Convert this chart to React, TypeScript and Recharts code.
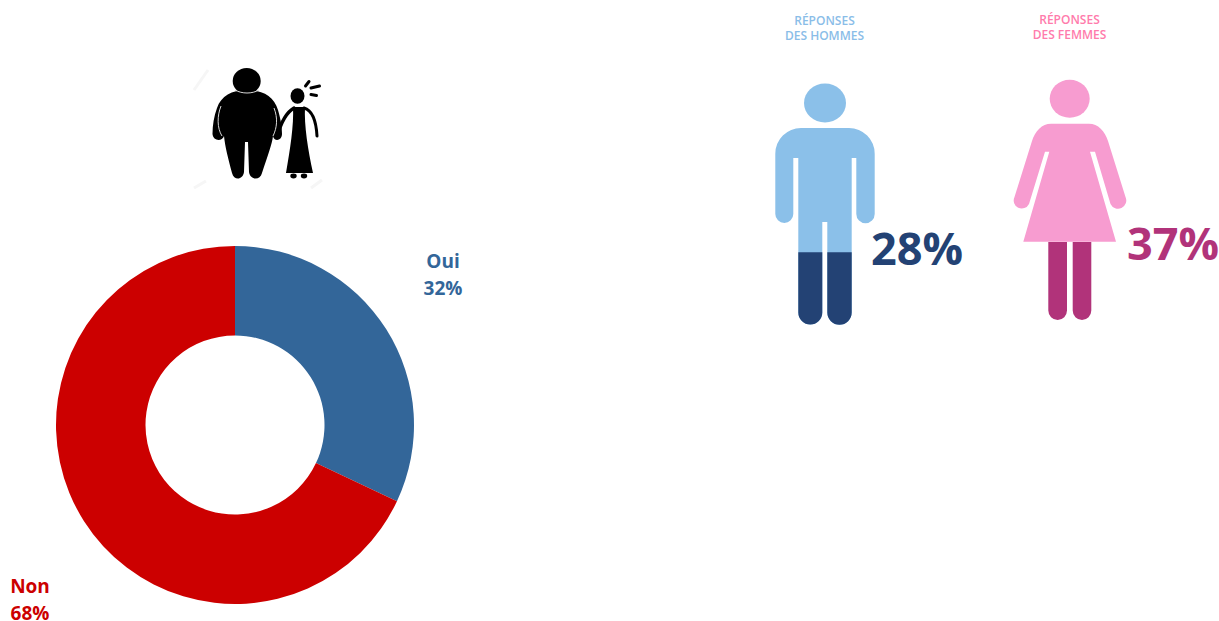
import React from "react";
import { PieChart, Pie, Cell } from "recharts";

const answers = ["Oui", "Non"];
const shares = [32, 68];
const sliceColors = ["#336699", "#CC0000"];
const surveyRows = answers.map((name, i) => ({ name, value: shares[i] }));

const menShare = 28;
const womenShare = 37;
const menHeading = ["RÉPONSES", "DES HOMMES"];
const womenHeading = ["RÉPONSES", "DES FEMMES"];

const labelFont = "'Open Sans', sans-serif";
const headingFont = "'Open Sans', sans-serif";

// Where each slice caption sits, centred on x with two stacked baselines.
const captionAnchors = [
  { x: 443, y: 268 },
  { x: 30, y: 593 },
];

function SliceCaption(props: any) {
  const anchor = captionAnchors[props.index];
  const color = sliceColors[props.index];
  return (
    <text
      x={anchor.x}
      y={anchor.y}
      textAnchor="middle"
      fontFamily={labelFont}
      fontWeight={700}
      fontSize={19}
      fill={color}
    >
      <tspan x={anchor.x}>{answers[props.index]}</tspan>
      <tspan x={anchor.x} dy={26.5}>{`${shares[props.index]}%`}</tspan>
    </text>
  );
}

const manOutline =
  "M801 128 H849 A25.7 25.7 0 0 1 874.7 153.7 V214 A9.2 9.2 0 0 1 856.3 214 V158 H851.7 V312.5 A12.2 12.2 0 0 1 827.3 312.5 V222 H822.3 V312.5 A12 12 0 0 1 798.3 312.5 V158 H793.3 V214 A9 9 0 0 1 775.3 214 V153.7 A25.7 25.7 0 0 1 801 128 Z";

const womanUpper =
  "M1051 123.7 H1089 C1098 123.7 1105 131 1108 141 L1125.5 197 A8 8 0 0 1 1110.5 204 L1095 151.7 H1090 L1116 241.7 H1023.3 L1049.3 151.7 H1045 L1029 204 A8 8 0 0 1 1014.5 197 L1032 141 C1035 131 1042 123.7 1051 123.7 Z";

const womanLegs =
  "M1048.3 242 H1067 V310.6 A9.35 9.35 0 0 1 1048.3 310.6 Z M1072.7 242 H1091.3 V310.6 A9.3 9.3 0 0 1 1072.7 310.6 Z";

function CoupleIcon() {
  return (
    <g filter="url(#iconSoft)">
      <g stroke="#f6f6f6" strokeWidth={3} fill="none">
        <path d="M194 90 L208 70" />
        <path d="M194 188 L206 181" />
        <path d="M311 188 L322 180" />
      </g>
      <ellipse cx={246.7} cy={81} rx={14} ry={13} fill="#000" />
      <path
        d="M246 90 C262 90 274 96 278 110 C281 120 282 128 282 134 C282 141 274 142 273 136 C272 144 268 155 262 173 C260 181 250 180 249 172 L248 142 H245 L244 172 C243 180 234 181 232 173 C228 158 225 146 224 136 C222 142 213 141 212.5 134 C212.5 125 214 116 217 108 C221 96 232 90 246 90 Z"
        fill="#000"
      />
      <path d="M221 106 C217 116 217 128 222 136" fill="none" stroke="#d8d8d8" strokeWidth={1} />
      <path d="M274 108 C278 118 277 128 273 136" fill="none" stroke="#d8d8d8" strokeWidth={1} />
      <path d="M235 90 C242 94 252 94 259 90" fill="none" stroke="#d8d8d8" strokeWidth={1} />
      <ellipse cx={297.5} cy={96} rx={7} ry={7.8} fill="#000" />
      <path d="M293 107 H305 C304 125 308 150 313 173 H286 C290 150 294 125 293 107 Z" fill="#000" />
      <path d="M294 108 C287 112 281 122 277 137" fill="none" stroke="#000" strokeWidth={3.4} strokeLinecap="round" />
      <path d="M304 108 C311 110 316 118 317 136" fill="none" stroke="#000" strokeWidth={3} strokeLinecap="round" />
      <ellipse cx={293.5} cy={176} rx={3.2} ry={2.4} fill="#000" />
      <ellipse cx={304} cy={176} rx={3.2} ry={2.4} fill="#000" />
      <g stroke="#000" strokeWidth={3} strokeLinecap="round" fill="none">
        <path d="M305.5 86 L309 81.5" />
        <path d="M311 88 L319.5 86" />
        <path d="M311 94.5 L316.5 95.5" />
      </g>
    </g>
  );
}

export default function App() {
  return (
    <div style={{ position: "absolute", left: 0, top: 0, width: 1219, height: 621 }}>
      <div style={{ position: "absolute", left: 0, top: 0 }}>
        <PieChart width={1219} height={621} margin={{ top: 0, right: 0, bottom: 0, left: 0 }}>
          <Pie
            data={surveyRows}
            dataKey="value"
            nameKey="name"
            cx={235}
            cy={425}
            innerRadius={89.5}
            outerRadius={179}
            startAngle={90}
            endAngle={-270}
            stroke="none"
            labelLine={false}
            label={SliceCaption}
            isAnimationActive={false}
          >
            {surveyRows.map((row, i) => (
              <Cell key={row.name} fill={sliceColors[i]} />
            ))}
          </Pie>
        </PieChart>
      </div>
      <svg
        width={1219}
        height={621}
        style={{ position: "absolute", left: 0, top: 0, pointerEvents: "none" }}
      >
        <defs>
          <filter id="iconSoft" x="-5%" y="-5%" width="110%" height="110%">
            <feGaussianBlur stdDeviation={0.6} />
          </filter>
          <clipPath id="manLower">
            <rect x={770} y={252.3} width={110} height={80} />
          </clipPath>
        </defs>

        <CoupleIcon />

        {/* Men */}
        <g textAnchor="middle" fontFamily={headingFont} fontWeight={600} fontSize={12} fill="#8ABDE8">
          <text x={824.5} y={25}>{menHeading[0]}</text>
          <text x={824.5} y={40}>{menHeading[1]}</text>
        </g>
        <ellipse cx={825} cy={103} rx={21} ry={19.5} fill="#8BC0E9" />
        <path d={manOutline} fill="#8BC0E9" />
        <path d={manOutline} fill="#234274" clipPath="url(#manLower)" />
        <text x={871} y={265} fontFamily={labelFont} fontWeight={700} fontSize={45} fill="#234274">
          {`${menShare}%`}
        </text>

        {/* Women */}
        <g textAnchor="middle" fontFamily={headingFont} fontWeight={600} fontSize={12} fill="#FF7BAC">
          <text x={1069.5} y={24}>{womenHeading[0]}</text>
          <text x={1069.5} y={39}>{womenHeading[1]}</text>
        </g>
        <ellipse cx={1069.7} cy={98.7} rx={20} ry={19} fill="#F79CD0" />
        <path d={womanUpper} fill="#F79CD0" />
        <path d={womanLegs} fill="#B1337A" />
        <text x={1127} y={260} fontFamily={labelFont} fontWeight={700} fontSize={45} fill="#B1337A">
          {`${womenShare}%`}
        </text>
      </svg>
    </div>
  );
}
